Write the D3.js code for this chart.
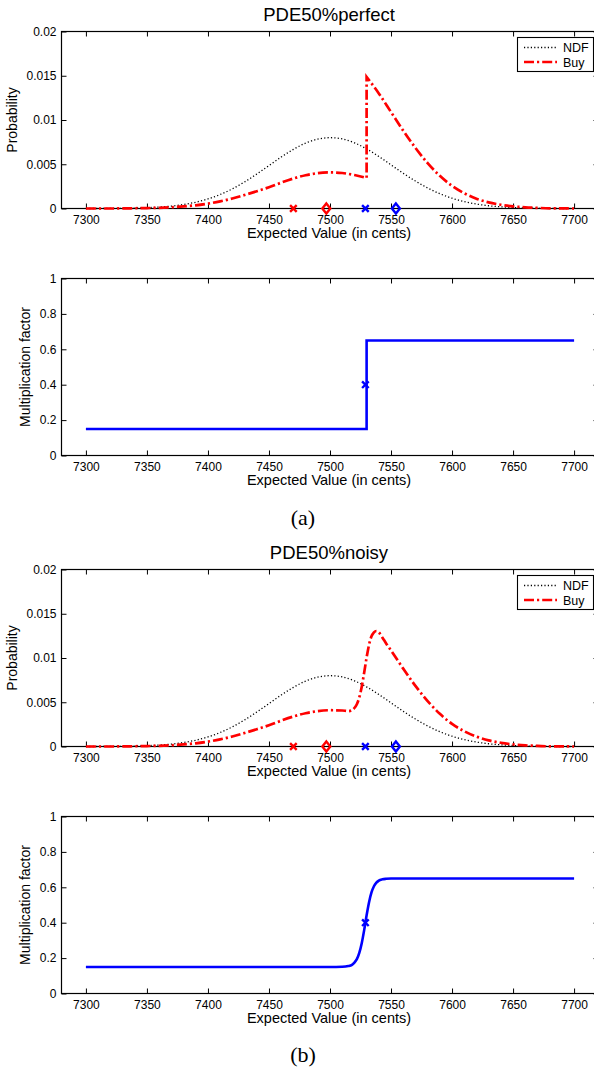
<!DOCTYPE html>
<html>
<head>
<meta charset="utf-8">
<script src="https://cdn.jsdelivr.net/npm/d3@7"></script>
<style>
  body { margin: 0; background: #fff; }
  svg { display: block; }
</style>
</head>
<body>
<svg id="fig" width="594" height="1071"></svg>
<script>
// ---- data ----------------------------------------------------------------
const xTicks = [7300, 7350, 7400, 7450, 7500, 7550, 7600, 7650, 7700];
const xTickLabels = ["7300", "7350", "7400", "7450", "7500", "7550", "7600", "7650", "7700"];
const probTicks = [0, 0.005, 0.01, 0.015, 0.02];
const probTickLabels = ["0", "0.005", "0.01", "0.015", "0.02"];
const factorTicks = [0, 0.2, 0.4, 0.6, 0.8, 1];
const factorTickLabels = ["0", "0.2", "0.4", "0.6", "0.8", "1"];

const panelTitles = ["PDE50%perfect", "PDE50%noisy"];
const subLabels = ["(a)", "(b)"];
const legendNames = ["NDF", "Buy"];

// NDF density, sampled every 10 cents
const ndfX = [7300, 7310, 7320, 7330, 7340, 7350, 7360, 7370, 7380, 7390,
              7400, 7410, 7420, 7430, 7440, 7450, 7460, 7470, 7480, 7490,
              7500, 7510, 7520, 7530, 7540, 7550, 7560, 7570, 7580, 7590,
              7600, 7610, 7620, 7630, 7640, 7650, 7660, 7670, 7680, 7690, 7700];
const ndfY = [0.00000, 0.00000, 0.00001, 0.00002, 0.00005, 0.00009, 0.00016, 0.00027, 0.00045, 0.00071,
              0.00108, 0.00158, 0.00222, 0.00300, 0.00389, 0.00485, 0.00581, 0.00668, 0.00739, 0.00784,
              0.00800, 0.00786, 0.00742, 0.00673, 0.00588, 0.00493, 0.00398, 0.00310, 0.00232, 0.00167,
              0.00116, 0.00078, 0.00050, 0.00031, 0.00019, 0.00011, 0.00006, 0.00003, 0.00001, 0.00000, 0.00000];

// Buy density with the perfect (step) factor: jumps at 7530
const buyPerfectX = [7300, 7310, 7320, 7330, 7340, 7350, 7360, 7370, 7380, 7390,
                     7400, 7410, 7420, 7430, 7440, 7450, 7460, 7470, 7480, 7490,
                     7500, 7510, 7520, 7530,
                     7530, 7540, 7550, 7560, 7570, 7580, 7590, 7600, 7610, 7620,
                     7630, 7640, 7650, 7660, 7670, 7680, 7690, 7700];
const buyPerfectY = [0.00000, 0.00000, 0.00000, 0.00001, 0.00003, 0.00005, 0.00008, 0.00014, 0.00023, 0.00036,
                     0.00055, 0.00081, 0.00113, 0.00153, 0.00195, 0.00240, 0.00292, 0.00339, 0.00376, 0.00400,
                     0.00408, 0.00401, 0.00378, 0.00345,
                     0.01487, 0.01300, 0.01090, 0.00880, 0.00685, 0.00513, 0.00369, 0.00256, 0.00172, 0.00111,
                     0.00069, 0.00042, 0.00024, 0.00013, 0.00007, 0.00002, 0.00001, 0.00000];

// Buy density with the noisy (smooth) factor
const buyNoisyX = [7300, 7310, 7320, 7330, 7340, 7350, 7360, 7370, 7380, 7390,
                   7400, 7410, 7420, 7430, 7440, 7450, 7460, 7470, 7480, 7490,
                   7500, 7510, 7515, 7518, 7520, 7522, 7524, 7526, 7528, 7530,
                   7532, 7534, 7536, 7538, 7540, 7543, 7546, 7550,
                   7560, 7570, 7580, 7590, 7600, 7610, 7620, 7630, 7640, 7650,
                   7660, 7670, 7680, 7690, 7700];
const buyNoisyY = [0.00000, 0.00000, 0.00000, 0.00001, 0.00003, 0.00005, 0.00008, 0.00014, 0.00023, 0.00036,
                   0.00055, 0.00081, 0.00113, 0.00153, 0.00195, 0.00240, 0.00292, 0.00339, 0.00376, 0.00400,
                   0.00410, 0.00407, 0.00400, 0.00410, 0.00435, 0.00478, 0.00555, 0.00675, 0.00835, 0.01005,
                   0.01150, 0.01245, 0.01290, 0.01305, 0.01290, 0.01230, 0.01165, 0.01085,
                   0.00880, 0.00685, 0.00513, 0.00369, 0.00256, 0.00172, 0.00111, 0.00069, 0.00042, 0.00024,
                   0.00013, 0.00007, 0.00002, 0.00001, 0.00000];

// multiplication factor curves
const factorPerfectX = [7300, 7530, 7530, 7700];
const factorPerfectY = [0.15, 0.15, 0.65, 0.65];
const factorNoisyX = [7300, 7400, 7500, 7510, 7515, 7518, 7520, 7522, 7524, 7526, 7528,
                      7530, 7532, 7534, 7536, 7538, 7540, 7543, 7546, 7550, 7600, 7700];
const factorNoisyY = [0.150, 0.150, 0.150, 0.151, 0.155, 0.162, 0.174, 0.194, 0.229, 0.284, 0.358,
                      0.442, 0.516, 0.571, 0.606, 0.626, 0.638, 0.645, 0.648, 0.650, 0.650, 0.650];

// summary markers on the expected-value axis
const buyCrossX = 7470, buyDiamondX = 7497;
const factorCrossX = 7529, factorDiamondX = 7554;
const factorMidX = 7529, factorMidY = 0.4;

// ---- drawing -------------------------------------------------------------
const FONT = '"Liberation Sans", Arial, Helvetica, sans-serif';
const RED = "#ff0000", BLUE = "#0000ff";
const svg = d3.select("#fig");
svg.append("rect").attr("width", 594).attr("height", 1071).attr("fill", "#fff");

const boxLeft = 61.5, boxRight = 598.5;
const x = d3.scaleLinear().domain([7280, 7720]).range([boxLeft, boxRight]);

const zip = (xs, ys) => xs.map((v, i) => [v, ys[i]]);

function frame(top, bottom, y, ticks, labels, yTitle, yTitleX) {
  const g = svg.append("g");
  const tidy = sel => {
    sel.select(".domain").remove();
    sel.attr("font-family", FONT).attr("font-size", 12);
    sel.selectAll("line").attr("stroke", "#000").attr("stroke-width", 1);
    sel.selectAll("text").attr("fill", "#000");
  };
  g.append("g").attr("transform", `translate(0,${bottom})`)
    .call(d3.axisBottom(x).tickValues(xTicks).tickFormat((d, i) => xTickLabels[i])
      .tickSizeInner(-5).tickSizeOuter(0).tickPadding(7)).call(tidy);
  g.append("g").attr("transform", `translate(0,${top})`)
    .call(d3.axisTop(x).tickValues(xTicks).tickFormat(() => "")
      .tickSizeInner(-5).tickSizeOuter(0)).call(tidy);
  g.append("g").attr("transform", `translate(${boxLeft},0)`)
    .call(d3.axisLeft(y).tickValues(ticks).tickFormat((d, i) => labels[i])
      .tickSizeInner(-5).tickSizeOuter(0).tickPadding(5)).call(tidy);
  g.append("g").attr("transform", `translate(${boxRight},0)`)
    .call(d3.axisRight(y).tickValues(ticks).tickFormat(() => "")
      .tickSizeInner(-5).tickSizeOuter(0)).call(tidy);
  g.append("rect").attr("x", boxLeft).attr("y", top)
    .attr("width", boxRight - boxLeft).attr("height", bottom - top)
    .attr("fill", "none").attr("stroke", "#000").attr("stroke-width", 1.2);
  g.append("text").attr("x", 329).attr("y", bottom + 29.5)
    .attr("text-anchor", "middle").attr("font-family", FONT).attr("font-size", 14.5)
    .text("Expected Value (in cents)");
  g.append("text").attr("transform", `translate(${yTitleX},${(top + bottom) / 2}) rotate(-90)`)
    .attr("text-anchor", "middle").attr("font-family", FONT).attr("font-size", 14)
    .text(yTitle);
  return g;
}

const crossPath = "M-3.3,-3.3L3.3,3.3M-3.3,3.3L3.3,-3.3";
const diamondPath = "M0,-5L4,0L0,5L-4,0Z";
function marker(g, path, cx, cy, color) {
  g.append("path").attr("d", path).attr("transform", `translate(${cx},${cy})`)
    .attr("fill", "none").attr("stroke", color).attr("stroke-width", 2.4);
}

const NDF_DASH = "1.2,2.2", BUY_DASH = "10,3,2.2,3";

function probPanel(top, bottom, title, buyX, buyY) {
  const y = d3.scaleLinear().domain([0, 0.02]).range([bottom, top]);
  const g = frame(top, bottom, y, probTicks, probTickLabels, "Probability", 17);
  g.append("text").attr("x", 329).attr("y", top - 11).attr("text-anchor", "middle")
    .attr("font-family", FONT).attr("font-size", 18.5).text(title);

  const curve = d3.line().x(d => x(d[0])).y(d => y(d[1])).curve(d3.curveMonotoneX);
  g.append("path").attr("d", curve(zip(ndfX, ndfY)))
    .attr("fill", "none").attr("stroke", "#000").attr("stroke-width", 1.3)
    .attr("stroke-dasharray", NDF_DASH);

  // split wherever x repeats (a vertical jump) and join the pieces into one path
  const pts = zip(buyX, buyY);
  const pieces = [];
  let cur = [pts[0]];
  for (let i = 1; i < pts.length; i++) {
    if (pts[i][0] === pts[i - 1][0]) { pieces.push(cur); cur = []; }
    cur.push(pts[i]);
  }
  pieces.push(cur);
  const d = pieces.map((p, i) => {
    const s = curve(p);
    return i === 0 ? s : "L" + s.slice(1);
  }).join("");
  g.append("path").attr("d", d)
    .attr("fill", "none").attr("stroke", RED).attr("stroke-width", 2.7)
    .attr("stroke-dasharray", BUY_DASH);

  marker(g, crossPath, x(buyCrossX), y(0), RED);
  marker(g, diamondPath, x(buyDiamondX), y(0), RED);
  marker(g, crossPath, x(factorCrossX), y(0), BLUE);
  marker(g, diamondPath, x(factorDiamondX), y(0), BLUE);

  // legend
  const lx = 517.5, ly = top + 6;
  g.append("rect").attr("x", lx).attr("y", ly).attr("width", 76).attr("height", 34)
    .attr("fill", "#fff").attr("stroke", "#000").attr("stroke-width", 1.1);
  const rows = [
    { name: legendNames[0], color: "#000", w: 1.3, dash: NDF_DASH },
    { name: legendNames[1], color: RED, w: 2.7, dash: BUY_DASH }
  ];
  rows.forEach((r, i) => {
    const ry = ly + 10 + i * 14.5;
    g.append("line").attr("x1", 524).attr("x2", 557).attr("y1", ry).attr("y2", ry)
      .attr("stroke", r.color).attr("stroke-width", r.w).attr("stroke-dasharray", r.dash);
    g.append("text").attr("x", 563).attr("y", ry).attr("dy", "0.36em")
      .attr("font-family", FONT).attr("font-size", 12.5).text(r.name);
  });
}

function factorPanel(top, bottom, fx, fy, curveType, subLabel, subY) {
  const y = d3.scaleLinear().domain([0, 1]).range([bottom, top]);
  const g = frame(top, bottom, y, factorTicks, factorTickLabels, "Multiplication factor", 30);
  const line = d3.line().x(d => x(d[0])).y(d => y(d[1])).curve(curveType);
  g.append("path").attr("d", line(zip(fx, fy)))
    .attr("fill", "none").attr("stroke", BLUE).attr("stroke-width", 2.6)
    .attr("stroke-linejoin", "miter");
  marker(g, crossPath, x(factorMidX), y(factorMidY), BLUE);
  g.append("text").attr("x", 303).attr("y", subY).attr("text-anchor", "middle")
    .attr("font-family", '"Liberation Serif", "Times New Roman", serif').attr("font-size", 22)
    .text(subLabel);
}

probPanel(31.5, 208.5, panelTitles[0], buyPerfectX, buyPerfectY);
factorPanel(278.5, 455.5, factorPerfectX, factorPerfectY, d3.curveLinear, subLabels[0], 525);
probPanel(569.5, 746.5, panelTitles[1], buyNoisyX, buyNoisyY);
factorPanel(816.5, 993.5, factorNoisyX, factorNoisyY, d3.curveMonotoneX, subLabels[1], 1062);
</script>
</body>
</html>
